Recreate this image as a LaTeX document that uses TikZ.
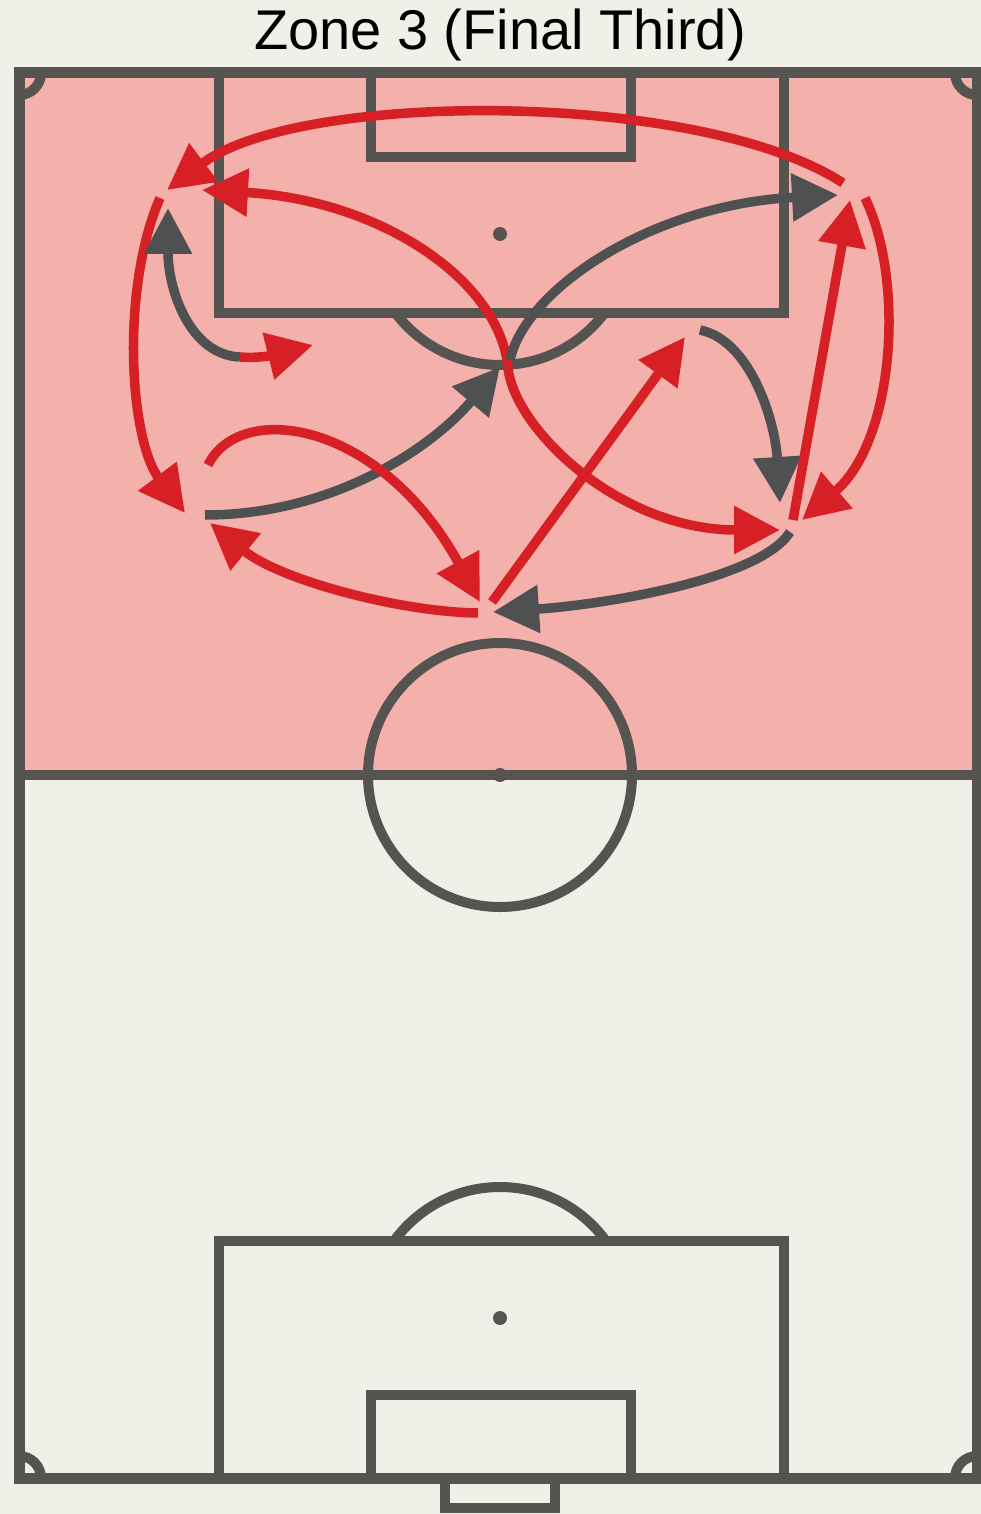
\documentclass[tikz,border=0pt]{standalone}
\usepackage{fontspec}
\setmainfont{Liberation Sans}
\usetikzlibrary{arrows.meta}
\definecolor{bg}{RGB}{240,240,232}
\definecolor{zone}{RGB}{244,176,170}
\definecolor{pline}{RGB}{85,84,80}
\definecolor{ared}{RGB}{214,32,38}
\definecolor{agray}{RGB}{78,80,82}
\tikzset{
  pitch/.style={draw=pline, line width=10pt},
  arr/.style={line width=9.5pt, -{Triangle[length=46pt,width=46pt]}},
  redarr/.style={arr, draw=ared},
  grayarr/.style={arr, draw=agray},
}
\begin{document}
\begin{tikzpicture}[x=1pt,y=-1pt]
\fill[bg] (0,0) rectangle (981,1514);
\useasboundingbox (0,0) rectangle (981,1514);
\fill[zone] (19,73) rectangle (977,775);
% pitch markings
\draw[pitch, line width=11pt] (19,73) rectangle (977,1478);
\draw[pitch] (19,775) -- (977,775);
\draw[pitch] (219,73) rectangle (784,313);
\draw[pitch] (371,73) rectangle (631,157);
\draw[pitch] (219,1241) rectangle (784,1478);
\draw[pitch] (371,1395) rectangle (631,1478);
\draw[pitch] (445,1478) rectangle (555,1508);
\draw[pitch] (500,775) circle[radius=132];
\fill[pline] (500,775) circle[radius=7];
\fill[pline] (500,234) circle[radius=7];
\fill[pline] (500,1318) circle[radius=7];
\begin{scope}
  \clip (0,313) rectangle (981,600);
  \draw[pitch] (500,234) circle[radius=131];
\end{scope}
\begin{scope}
  \clip (0,1000) rectangle (981,1241);
  \draw[pitch] (500,1318) circle[radius=131];
\end{scope}
\begin{scope}
  \clip (19,73) rectangle (977,1478);
  \draw[pitch] (19,73) circle[radius=22];
  \draw[pitch] (977,73) circle[radius=22];
  \draw[pitch] (19,1478) circle[radius=22];
  \draw[pitch] (977,1478) circle[radius=22];
\end{scope}
% title
\node[font=\fontsize{56}{60}\selectfont, anchor=base, text=black] (title) at (500,50) {Zone 3 (Final Third)};
% arrow end points
\coordinate (F) at (508,368);
\coordinate (F1) at (500,367);
\coordinate (F2) at (510,360);
\coordinate (A1) at (167,190);
\coordinate (A2) at (202,190);
\coordinate (A3) at (168,208);
\coordinate (A4) at (160,198);
\coordinate (B1) at (843,183);
\coordinate (B2) at (838,195);
\coordinate (B3) at (850,200);
\coordinate (B4) at (865,198);
\coordinate (C1) at (185,513);
\coordinate (C2) at (205,515);
\coordinate (C3) at (208,465);
\coordinate (C4) at (210,523);
\coordinate (D1) at (480,602);
\coordinate (D2) at (478,613);
\coordinate (D3) at (492,602);
\coordinate (D4) at (493,612);
\coordinate (E1) at (780,530);
\coordinate (E2) at (780,503);
\coordinate (E3) at (793,520);
\coordinate (E4) at (802,520);
\coordinate (E5) at (790,532);
\coordinate (G1) at (685,337);
\coordinate (G2) at (700,330);
\coordinate (H0) at (240,357);
\coordinate (H1) at (313,345);
% arrows
\draw[redarr] (B1) .. controls (700,90) and (300,90) .. (A1);
\draw[redarr] (F) .. controls (500,280) and (380,200) .. (A2);
\draw[redarr] (F) .. controls (515,430) and (620,530) .. (E1);
\draw[grayarr] (F2) .. controls (525,290) and (650,205) .. (B2);
\draw[grayarr] (C2) .. controls (330,515) and (430,450) .. (F1);
\draw[redarr] (A4) .. controls (120,290) and (130,440) .. (C1);
\draw[grayarr] (H0) .. controls (190,355) and (168,290) .. (A3);
\draw[redarr] (H0) .. controls (265,359) and (285,352) .. (H1);
\draw[redarr] (C3) .. controls (240,400) and (380,420) .. (D1);
\draw[redarr] (D2) .. controls (400,612) and (280,580) .. (C4);
\draw[redarr] (D3) -- (G1);
\draw[grayarr] (G2) .. controls (750,340) and (775,420) .. (E2);
\draw[redarr] (E3) -- (B3);
\draw[redarr] (B4) .. controls (905,280) and (895,440) .. (E4);
\draw[grayarr] (E5) .. controls (760,580) and (600,605) .. (D4);
\end{tikzpicture}
\end{document}
